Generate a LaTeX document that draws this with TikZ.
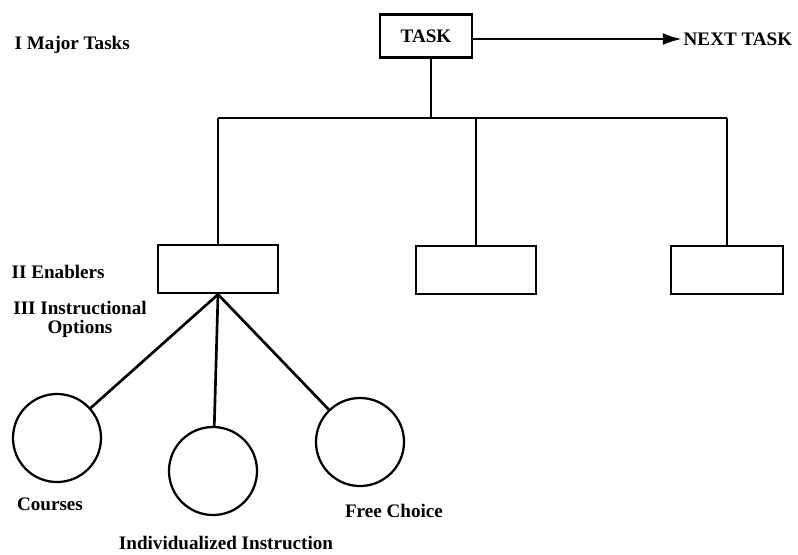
\documentclass[tikz,border=0pt]{standalone}
\usepackage{fontspec}
\setmainfont{Liberation Serif}
\usetikzlibrary{arrows.meta}
\tikzset{
	lbl/.style={font=\fontsize{13.6}{15}\selectfont\bfseries, inner sep=1pt},
	taskbox/.style={draw, line width=2pt, minimum width=2.3cm, minimum height=1.07cm, inner sep=0pt},
	enabler/.style={draw, line width=2pt, minimum width=3cm, minimum height=1.2cm, inner sep=0pt},
	option/.style={draw, circle, line width=1.6pt, minimum size=2.2cm, inner sep=0pt},
	link/.style={line width=1.9pt}
}

\begin{document}
\begin{tikzpicture}[x=0.025cm, y=-0.025cm]
		%%%%% START %%%%%
		\useasboundingbox (0, 0) rectangle (798, 554);
		
		\node[taskbox, lbl] (task) at (426, 36) {TASK};
		\node[lbl, anchor=west] (next) at (682, 39) {NEXT TASK};
		\draw[link, -{Latex[length=4.8mm, width=3mm]}] (task.east |- next) -- (next.west);
		
		\node[lbl, anchor=west] (major) at (13, 45) {I Major Tasks};
		
		\node[enabler] (en1) at (218, 269) {};
		\node[enabler] (en2) at (476, 270) {};
		\node[enabler, minimum width=2.8cm] (en3) at (727, 270) {};
		
		\coordinate (bus) at (431, 118);
		\draw[link] (task.south -| bus) -- (bus);
		\draw[link] (en1.north |- bus) -- (en3.north |- bus);
		\draw[link] (en1.north |- bus) -- (en1.north);
		\draw[link] (en2.north |- bus) -- (en2.north);
		\draw[link] (en3.north |- bus) -- (en3.north);
		
		\node[lbl, anchor=west] (enablers) at (10, 272) {II Enablers};
		\node[lbl, anchor=north, align=center] (options) at (80, 300) {III Instructional\\[-2pt]Options};
		
		\node[option] (courses) at (57, 438) {};
		\node[option] (indiv) at (213, 471) {};
		\node[option] (free) at (360, 442) {};
		\draw[link] (en1.south) -- (courses);
		\draw[link] (en1.south) -- (indiv);
		\draw[link] (en1.south) -- (free);
		
		\node[lbl] (courseslbl) at (50, 504) {Courses};
		\node[lbl] (indivlbl) at (226, 543) {Individualized Instruction};
		\node[lbl] (freelbl) at (394, 511) {Free Choice};
		%%%%% END %%%%%
	\end{tikzpicture}
\end{document}
